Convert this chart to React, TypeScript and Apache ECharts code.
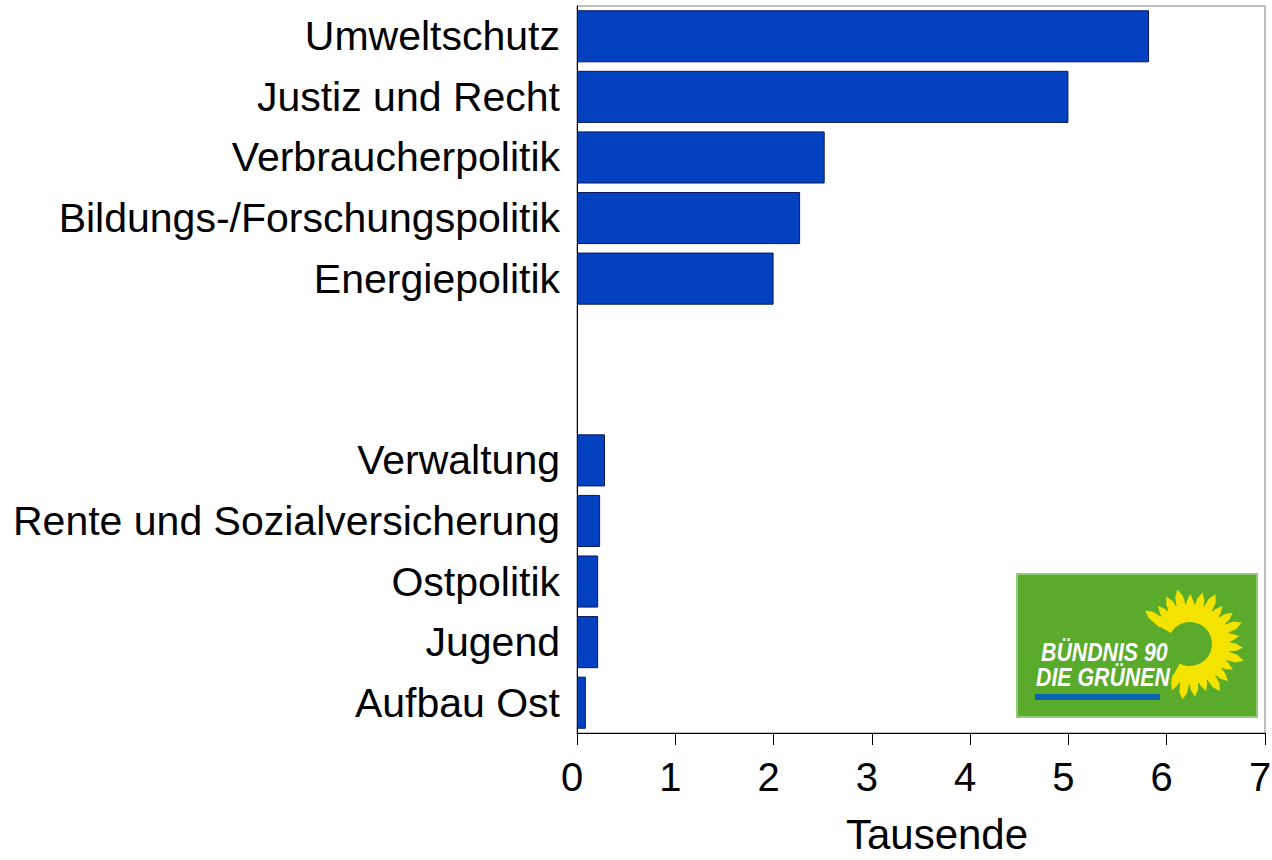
import React, { useEffect, useRef } from "react";
import * as echarts from "echarts";

const categories = [
  "Umweltschutz",
  "Justiz und Recht",
  "Verbraucherpolitik",
  "Bildungs-/Forschungspolitik",
  "Energiepolitik",
  " ",
  "  ",
  "Verwaltung",
  "Rente und Sozialversicherung",
  "Ostpolitik",
  "Jugend",
  "Aufbau Ost",
];
const values: (number | null)[] = [5.82, 5.0, 2.52, 2.27, 2.0, null, null, 0.285, 0.235, 0.215, 0.215, 0.09];
const xTicks = [0, 1, 2, 3, 4, 5, 6, 7];
const axisTitle = "Tausende";
const logoLine1 = "BÜNDNIS 90";
const logoLine2 = "DIE GRÜNEN";

const FONT = "'Liberation Sans', Arial, sans-serif";

function buildLogo() {
  const cx = 1190;
  const cy = 644;
  const children: any[] = [];
  children.push({
    type: "rect",
    shape: { x: 1017, y: 574, width: 240, height: 143 },
    style: { fill: "#5aaa2b", stroke: "#93c97a", lineWidth: 2 },
    z: 10,
  });
  const start = (-150 * Math.PI) / 180;
  const end = (118 * Math.PI) / 180;
  children.push({
    type: "sector",
    shape: { cx, cy, r0: 22, r: 40, startAngle: start, endAngle: end, clockwise: true },
    style: { fill: "#f4e300" },
    z: 11,
  });
  const n = 20;
  for (let i = 0; i < n; i++) {
    const a = start + ((end - start) * (i + 0.5)) / n;
    const w = ((end - start) / n) * 0.62;
    const rOut = 53 + (i % 3 === 0 ? 3 : i % 3 === 1 ? -3 : 0);
    const pts = [
      [cx + 34 * Math.cos(a - w), cy + 34 * Math.sin(a - w)],
      [cx + (rOut - 7) * Math.cos(a - w * 0.55), cy + (rOut - 7) * Math.sin(a - w * 0.55)],
      [cx + rOut * Math.cos(a), cy + rOut * Math.sin(a)],
      [cx + (rOut - 7) * Math.cos(a + w * 0.55), cy + (rOut - 7) * Math.sin(a + w * 0.55)],
      [cx + 34 * Math.cos(a + w), cy + 34 * Math.sin(a + w)],
    ];
    children.push({ type: "polygon", shape: { points: pts }, style: { fill: "#f4e300" }, z: 11 });
  }
  children.push({
    type: "text",
    x: 1041,
    y: 639,
    scaleX: 0.82,
    style: {
      text: logoLine1,
      fill: "#ffffff",
      font: `italic bold 26px ${FONT}`,
    },
    z: 12,
  });
  children.push({
    type: "text",
    x: 1036,
    y: 664,
    scaleX: 0.82,
    style: {
      text: logoLine2,
      fill: "#ffffff",
      font: `italic bold 26px ${FONT}`,
    },
    z: 12,
  });
  children.push({
    type: "rect",
    shape: { x: 1035, y: 694, width: 125, height: 6 },
    style: { fill: "#0a63b0" },
    z: 12,
  });
  return children;
}

export default function App() {
  const ref = useRef<HTMLDivElement>(null);
  useEffect(() => {
    if (!ref.current) return;
    const chart = echarts.init(ref.current, null, { renderer: "svg" });
    chart.setOption({
      animation: false,
      backgroundColor: "#ffffff",
      grid: {
        left: 577,
        right: 7,
        top: 6,
        bottom: 127,
        containLabel: false,
        outerBoundsMode: "none",
        show: true,
        borderColor: "#808080",
        borderWidth: 1,
      },
      xAxis: {
        type: "value",
        min: 0,
        max: 7,
        interval: 1,
        axisLine: { show: true, lineStyle: { color: "#000000", width: 1 } },
        axisTick: { show: true, length: 12, lineStyle: { color: "#000000" }, customValues: xTicks },
        axisLabel: {
          color: "#000000",
          fontSize: 40,
          fontFamily: FONT,
          margin: 24,
          padding: [0, 10, 0, 0],
          customValues: xTicks,
        },
        splitLine: { show: false },
        name: axisTitle,
        nameLocation: "middle",
        nameGap: 80,
        nameTextStyle: {
          color: "#000000",
          fontSize: 42,
          fontFamily: FONT,
          padding: [0, 0, 0, 32],
        },
      },
      yAxis: {
        type: "category",
        inverse: true,
        data: categories,
        axisLine: { show: true, lineStyle: { color: "#000000", width: 1 } },
        axisTick: { show: false },
        axisLabel: {
          color: "#000000",
          fontSize: 41,
          fontFamily: FONT,
          margin: 17,
          padding: [6, 0, 0, 0],
        },
        splitLine: { show: false },
      },
      series: [
        {
          type: "bar",
          data: values,
          barCategoryGap: "14%",
          itemStyle: { color: "#0341c1", borderColor: "#0b1a55", borderWidth: 1 },
        },
      ],
      graphic: buildLogo(),
    });
    return () => chart.dispose();
  }, []);
  return (
    <div
      ref={ref}
      style={{ position: "fixed", left: 0, top: 0, width: 1272, height: 860 }}
    />
  );
}
